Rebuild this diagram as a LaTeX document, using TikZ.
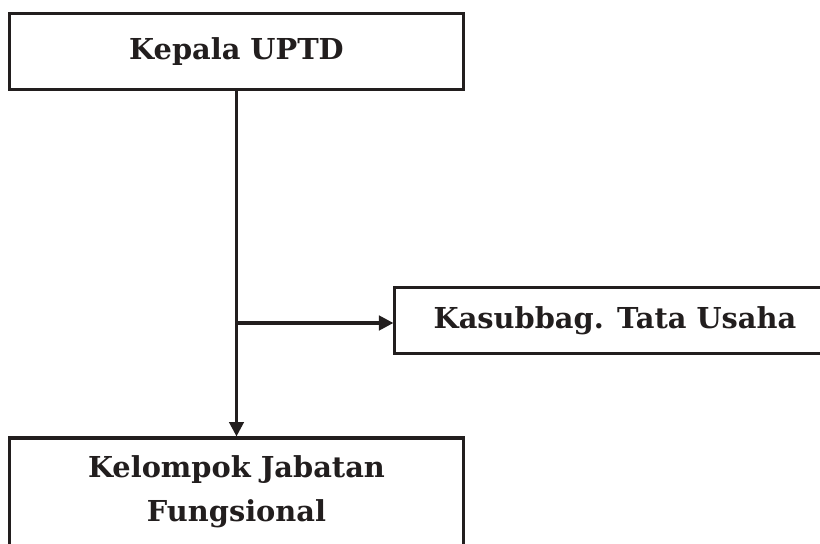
\documentclass[tikz,border=0pt]{standalone}
\usepackage{fontspec}
\setmainfont{DejaVu Serif}
\usepackage{tikz}
\usetikzlibrary{arrows.meta,positioning,calc}
\definecolor{InkBlack}{RGB}{34,30,30}
\tikzset{
  orgbox/.style ={rectangle, draw=InkBlack, line width=2.2pt, fill=white,
                  text=InkBlack, align=center, inner sep=0pt,
                  font=\fontsize{20.5}{31}\selectfont\bfseries},
  arr/.style    ={-{Triangle[length=3.6mm,width=3.6mm]}, draw=InkBlack, line width=2.2pt},
}
\begin{document}
\begin{tikzpicture}[x=0.025cm,y=-0.025cm]
  \clip (0,0) rectangle (820,544);
  \fill[white] (0,0) rectangle (820,544);
  \node[orgbox,minimum width=11.35cm,minimum height=1.92cm] (kepala) at (236.5,51.5) {Kepala UPTD};
  \node[orgbox,minimum width=11cm,minimum height=1.67cm] (tu) at (615,320.5) {Kasubbag. Tata Usaha};
  \node[orgbox,minimum width=11.35cm,minimum height=2.7cm] (jf) at (236.5,492)
       {Kelompok Jabatan\\Fungsional};
  \coordinate (cabang) at (kepala.south |- 0,323);
  \draw[arr] (kepala) -- (jf);
  \draw[arr] (cabang) -- (cabang -| tu.west);
\end{tikzpicture}
\end{document}
